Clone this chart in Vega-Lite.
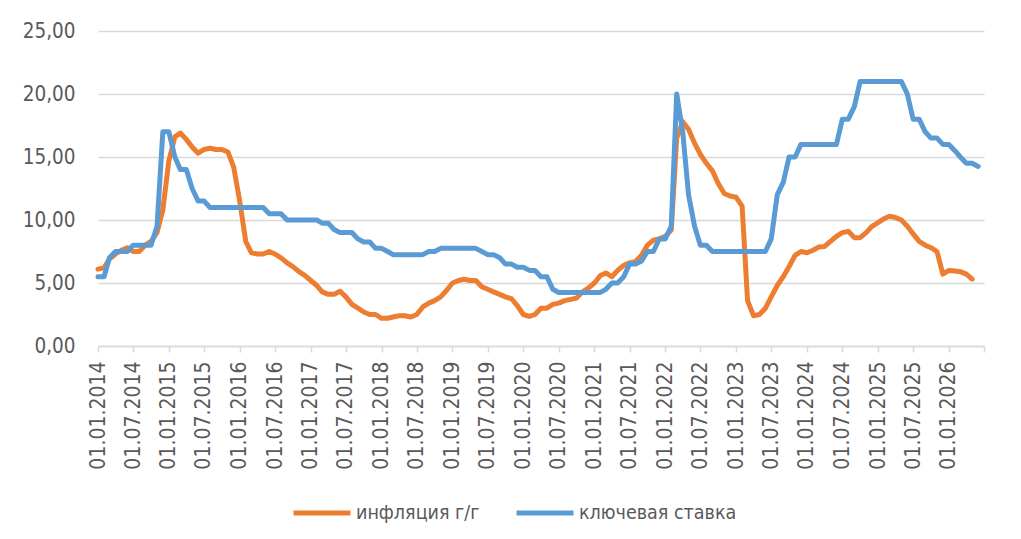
{
"$schema": "https://vega.github.io/schema/vega-lite/v6.json",
"width": 886, "height": 315,
"autosize": {"type": "none"},
"padding": {"left": 98, "top": 31, "right": 37, "bottom": 193},
"background": "white",
"config": {"view": {"stroke": null}, "font": "DejaVu Sans Condensed, Liberation Sans, sans-serif"},
"data": {"values": [
{"d":"2014-01-01","s":"инфляция г/г","v":6.1},{"d":"2014-02-01","s":"инфляция г/г","v":6.2},{"d":"2014-03-01","s":"инфляция г/г","v":6.9},{"d":"2014-04-01","s":"инфляция г/г","v":7.3},{"d":"2014-05-01","s":"инфляция г/г","v":7.6},{"d":"2014-06-01","s":"инфляция г/г","v":7.8},{"d":"2014-07-01","s":"инфляция г/г","v":7.5},{"d":"2014-08-01","s":"инфляция г/г","v":7.5},{"d":"2014-09-01","s":"инфляция г/г","v":8.0},{"d":"2014-10-01","s":"инфляция г/г","v":8.3},{"d":"2014-11-01","s":"инфляция г/г","v":9.0},{"d":"2014-12-01","s":"инфляция г/г","v":10.8},
{"d":"2015-01-01","s":"инфляция г/г","v":14.7},{"d":"2015-02-01","s":"инфляция г/г","v":16.6},{"d":"2015-03-01","s":"инфляция г/г","v":16.9},{"d":"2015-04-01","s":"инфляция г/г","v":16.4},{"d":"2015-05-01","s":"инфляция г/г","v":15.8},{"d":"2015-06-01","s":"инфляция г/г","v":15.3},{"d":"2015-07-01","s":"инфляция г/г","v":15.6},{"d":"2015-08-01","s":"инфляция г/г","v":15.7},{"d":"2015-09-01","s":"инфляция г/г","v":15.6},{"d":"2015-10-01","s":"инфляция г/г","v":15.6},{"d":"2015-11-01","s":"инфляция г/г","v":15.4},{"d":"2015-12-01","s":"инфляция г/г","v":14.2},
{"d":"2016-01-01","s":"инфляция г/г","v":11.5},{"d":"2016-02-01","s":"инфляция г/г","v":8.3},{"d":"2016-03-01","s":"инфляция г/г","v":7.4},{"d":"2016-04-01","s":"инфляция г/г","v":7.3},{"d":"2016-05-01","s":"инфляция г/г","v":7.3},{"d":"2016-06-01","s":"инфляция г/г","v":7.5},{"d":"2016-07-01","s":"инфляция г/г","v":7.3},{"d":"2016-08-01","s":"инфляция г/г","v":7.0},{"d":"2016-09-01","s":"инфляция г/г","v":6.6},{"d":"2016-10-01","s":"инфляция г/г","v":6.3},{"d":"2016-11-01","s":"инфляция г/г","v":5.9},{"d":"2016-12-01","s":"инфляция г/г","v":5.6},
{"d":"2017-01-01","s":"инфляция г/г","v":5.2},{"d":"2017-02-01","s":"инфляция г/г","v":4.8},{"d":"2017-03-01","s":"инфляция г/г","v":4.3},{"d":"2017-04-01","s":"инфляция г/г","v":4.1},{"d":"2017-05-01","s":"инфляция г/г","v":4.1},{"d":"2017-06-01","s":"инфляция г/г","v":4.35},{"d":"2017-07-01","s":"инфляция г/г","v":3.9},{"d":"2017-08-01","s":"инфляция г/г","v":3.3},{"d":"2017-09-01","s":"инфляция г/г","v":3.0},{"d":"2017-10-01","s":"инфляция г/г","v":2.7},{"d":"2017-11-01","s":"инфляция г/г","v":2.5},{"d":"2017-12-01","s":"инфляция г/г","v":2.5},
{"d":"2018-01-01","s":"инфляция г/г","v":2.2},{"d":"2018-02-01","s":"инфляция г/г","v":2.2},{"d":"2018-03-01","s":"инфляция г/г","v":2.3},{"d":"2018-04-01","s":"инфляция г/г","v":2.4},{"d":"2018-05-01","s":"инфляция г/г","v":2.4},{"d":"2018-06-01","s":"инфляция г/г","v":2.3},{"d":"2018-07-01","s":"инфляция г/г","v":2.5},{"d":"2018-08-01","s":"инфляция г/г","v":3.1},{"d":"2018-09-01","s":"инфляция г/г","v":3.4},{"d":"2018-10-01","s":"инфляция г/г","v":3.6},{"d":"2018-11-01","s":"инфляция г/г","v":3.9},{"d":"2018-12-01","s":"инфляция г/г","v":4.4},
{"d":"2019-01-01","s":"инфляция г/г","v":5.0},{"d":"2019-02-01","s":"инфляция г/г","v":5.2},{"d":"2019-03-01","s":"инфляция г/г","v":5.3},{"d":"2019-04-01","s":"инфляция г/г","v":5.2},{"d":"2019-05-01","s":"инфляция г/г","v":5.2},{"d":"2019-06-01","s":"инфляция г/г","v":4.7},{"d":"2019-07-01","s":"инфляция г/г","v":4.5},{"d":"2019-08-01","s":"инфляция г/г","v":4.3},{"d":"2019-09-01","s":"инфляция г/г","v":4.1},{"d":"2019-10-01","s":"инфляция г/г","v":3.9},{"d":"2019-11-01","s":"инфляция г/г","v":3.75},{"d":"2019-12-01","s":"инфляция г/г","v":3.2},
{"d":"2020-01-01","s":"инфляция г/г","v":2.5},{"d":"2020-02-01","s":"инфляция г/г","v":2.35},{"d":"2020-03-01","s":"инфляция г/г","v":2.5},{"d":"2020-04-01","s":"инфляция г/г","v":3.0},{"d":"2020-05-01","s":"инфляция г/г","v":3.0},{"d":"2020-06-01","s":"инфляция г/г","v":3.3},{"d":"2020-07-01","s":"инфляция г/г","v":3.4},{"d":"2020-08-01","s":"инфляция г/г","v":3.6},{"d":"2020-09-01","s":"инфляция г/г","v":3.7},{"d":"2020-10-01","s":"инфляция г/г","v":3.8},{"d":"2020-11-01","s":"инфляция г/г","v":4.3},{"d":"2020-12-01","s":"инфляция г/г","v":4.6},
{"d":"2021-01-01","s":"инфляция г/г","v":5.0},{"d":"2021-02-01","s":"инфляция г/г","v":5.6},{"d":"2021-03-01","s":"инфляция г/г","v":5.8},{"d":"2021-04-01","s":"инфляция г/г","v":5.5},{"d":"2021-05-01","s":"инфляция г/г","v":6.0},{"d":"2021-06-01","s":"инфляция г/г","v":6.4},{"d":"2021-07-01","s":"инфляция г/г","v":6.6},{"d":"2021-08-01","s":"инфляция г/г","v":6.7},{"d":"2021-09-01","s":"инфляция г/г","v":7.2},{"d":"2021-10-01","s":"инфляция г/г","v":8.0},{"d":"2021-11-01","s":"инфляция г/г","v":8.4},{"d":"2021-12-01","s":"инфляция г/г","v":8.5},
{"d":"2022-01-01","s":"инфляция г/г","v":8.7},{"d":"2022-02-01","s":"инфляция г/г","v":9.2},{"d":"2022-03-01","s":"инфляция г/г","v":16.5},{"d":"2022-04-01","s":"инфляция г/г","v":17.8},{"d":"2022-05-01","s":"инфляция г/г","v":17.2},{"d":"2022-06-01","s":"инфляция г/г","v":16.1},{"d":"2022-07-01","s":"инфляция г/г","v":15.2},{"d":"2022-08-01","s":"инфляция г/г","v":14.5},{"d":"2022-09-01","s":"инфляция г/г","v":13.9},{"d":"2022-10-01","s":"инфляция г/г","v":12.9},{"d":"2022-11-01","s":"инфляция г/г","v":12.1},{"d":"2022-12-01","s":"инфляция г/г","v":11.9},
{"d":"2023-01-01","s":"инфляция г/г","v":11.8},{"d":"2023-02-01","s":"инфляция г/г","v":11.1},{"d":"2023-03-01","s":"инфляция г/г","v":3.6},{"d":"2023-04-01","s":"инфляция г/г","v":2.4},{"d":"2023-05-01","s":"инфляция г/г","v":2.5},{"d":"2023-06-01","s":"инфляция г/г","v":3.0},{"d":"2023-07-01","s":"инфляция г/г","v":3.9},{"d":"2023-08-01","s":"инфляция г/г","v":4.8},{"d":"2023-09-01","s":"инфляция г/г","v":5.5},{"d":"2023-10-01","s":"инфляция г/г","v":6.3},{"d":"2023-11-01","s":"инфляция г/г","v":7.2},{"d":"2023-12-01","s":"инфляция г/г","v":7.5},
{"d":"2024-01-01","s":"инфляция г/г","v":7.4},{"d":"2024-02-01","s":"инфляция г/г","v":7.6},{"d":"2024-03-01","s":"инфляция г/г","v":7.85},{"d":"2024-04-01","s":"инфляция г/г","v":7.9},{"d":"2024-05-01","s":"инфляция г/г","v":8.3},{"d":"2024-06-01","s":"инфляция г/г","v":8.7},{"d":"2024-07-01","s":"инфляция г/г","v":9.0},{"d":"2024-08-01","s":"инфляция г/г","v":9.1},{"d":"2024-09-01","s":"инфляция г/г","v":8.6},{"d":"2024-10-01","s":"инфляция г/г","v":8.6},{"d":"2024-11-01","s":"инфляция г/г","v":9.0},{"d":"2024-12-01","s":"инфляция г/г","v":9.5},
{"d":"2025-01-01","s":"инфляция г/г","v":9.8},{"d":"2025-02-01","s":"инфляция г/г","v":10.1},{"d":"2025-03-01","s":"инфляция г/г","v":10.3},{"d":"2025-04-01","s":"инфляция г/г","v":10.2},{"d":"2025-05-01","s":"инфляция г/г","v":10.0},{"d":"2025-06-01","s":"инфляция г/г","v":9.5},{"d":"2025-07-01","s":"инфляция г/г","v":8.9},{"d":"2025-08-01","s":"инфляция г/г","v":8.3},{"d":"2025-09-01","s":"инфляция г/г","v":8.0},{"d":"2025-10-01","s":"инфляция г/г","v":7.8},{"d":"2025-11-01","s":"инфляция г/г","v":7.5},{"d":"2025-12-01","s":"инфляция г/г","v":5.7},
{"d":"2026-01-01","s":"инфляция г/г","v":6.0},{"d":"2026-02-01","s":"инфляция г/г","v":5.95},{"d":"2026-03-01","s":"инфляция г/г","v":5.9},{"d":"2026-04-01","s":"инфляция г/г","v":5.7},{"d":"2026-05-01","s":"инфляция г/г","v":5.3},
{"d":"2014-01-01","s":"ключевая ставка","v":5.5},{"d":"2014-02-01","s":"ключевая ставка","v":5.5},{"d":"2014-03-01","s":"ключевая ставка","v":7.0},{"d":"2014-04-01","s":"ключевая ставка","v":7.5},{"d":"2014-05-01","s":"ключевая ставка","v":7.5},{"d":"2014-06-01","s":"ключевая ставка","v":7.5},{"d":"2014-07-01","s":"ключевая ставка","v":8.0},{"d":"2014-08-01","s":"ключевая ставка","v":8.0},{"d":"2014-09-01","s":"ключевая ставка","v":8.0},{"d":"2014-10-01","s":"ключевая ставка","v":8.0},{"d":"2014-11-01","s":"ключевая ставка","v":9.5},{"d":"2014-12-01","s":"ключевая ставка","v":17.0},
{"d":"2015-01-01","s":"ключевая ставка","v":17.0},{"d":"2015-02-01","s":"ключевая ставка","v":15.0},{"d":"2015-03-01","s":"ключевая ставка","v":14.0},{"d":"2015-04-01","s":"ключевая ставка","v":14.0},{"d":"2015-05-01","s":"ключевая ставка","v":12.5},{"d":"2015-06-01","s":"ключевая ставка","v":11.5},{"d":"2015-07-01","s":"ключевая ставка","v":11.5},{"d":"2015-08-01","s":"ключевая ставка","v":11.0},{"d":"2015-09-01","s":"ключевая ставка","v":11.0},{"d":"2015-10-01","s":"ключевая ставка","v":11.0},{"d":"2015-11-01","s":"ключевая ставка","v":11.0},{"d":"2015-12-01","s":"ключевая ставка","v":11.0},
{"d":"2016-01-01","s":"ключевая ставка","v":11.0},{"d":"2016-02-01","s":"ключевая ставка","v":11.0},{"d":"2016-03-01","s":"ключевая ставка","v":11.0},{"d":"2016-04-01","s":"ключевая ставка","v":11.0},{"d":"2016-05-01","s":"ключевая ставка","v":11.0},{"d":"2016-06-01","s":"ключевая ставка","v":10.5},{"d":"2016-07-01","s":"ключевая ставка","v":10.5},{"d":"2016-08-01","s":"ключевая ставка","v":10.5},{"d":"2016-09-01","s":"ключевая ставка","v":10.0},{"d":"2016-10-01","s":"ключевая ставка","v":10.0},{"d":"2016-11-01","s":"ключевая ставка","v":10.0},{"d":"2016-12-01","s":"ключевая ставка","v":10.0},
{"d":"2017-01-01","s":"ключевая ставка","v":10.0},{"d":"2017-02-01","s":"ключевая ставка","v":10.0},{"d":"2017-03-01","s":"ключевая ставка","v":9.75},{"d":"2017-04-01","s":"ключевая ставка","v":9.75},{"d":"2017-05-01","s":"ключевая ставка","v":9.25},{"d":"2017-06-01","s":"ключевая ставка","v":9.0},{"d":"2017-07-01","s":"ключевая ставка","v":9.0},{"d":"2017-08-01","s":"ключевая ставка","v":9.0},{"d":"2017-09-01","s":"ключевая ставка","v":8.5},{"d":"2017-10-01","s":"ключевая ставка","v":8.25},{"d":"2017-11-01","s":"ключевая ставка","v":8.25},{"d":"2017-12-01","s":"ключевая ставка","v":7.75},
{"d":"2018-01-01","s":"ключевая ставка","v":7.75},{"d":"2018-02-01","s":"ключевая ставка","v":7.5},{"d":"2018-03-01","s":"ключевая ставка","v":7.25},{"d":"2018-04-01","s":"ключевая ставка","v":7.25},{"d":"2018-05-01","s":"ключевая ставка","v":7.25},{"d":"2018-06-01","s":"ключевая ставка","v":7.25},{"d":"2018-07-01","s":"ключевая ставка","v":7.25},{"d":"2018-08-01","s":"ключевая ставка","v":7.25},{"d":"2018-09-01","s":"ключевая ставка","v":7.5},{"d":"2018-10-01","s":"ключевая ставка","v":7.5},{"d":"2018-11-01","s":"ключевая ставка","v":7.75},{"d":"2018-12-01","s":"ключевая ставка","v":7.75},
{"d":"2019-01-01","s":"ключевая ставка","v":7.75},{"d":"2019-02-01","s":"ключевая ставка","v":7.75},{"d":"2019-03-01","s":"ключевая ставка","v":7.75},{"d":"2019-04-01","s":"ключевая ставка","v":7.75},{"d":"2019-05-01","s":"ключевая ставка","v":7.75},{"d":"2019-06-01","s":"ключевая ставка","v":7.5},{"d":"2019-07-01","s":"ключевая ставка","v":7.25},{"d":"2019-08-01","s":"ключевая ставка","v":7.25},{"d":"2019-09-01","s":"ключевая ставка","v":7.0},{"d":"2019-10-01","s":"ключевая ставка","v":6.5},{"d":"2019-11-01","s":"ключевая ставка","v":6.5},{"d":"2019-12-01","s":"ключевая ставка","v":6.25},
{"d":"2020-01-01","s":"ключевая ставка","v":6.25},{"d":"2020-02-01","s":"ключевая ставка","v":6.0},{"d":"2020-03-01","s":"ключевая ставка","v":6.0},{"d":"2020-04-01","s":"ключевая ставка","v":5.5},{"d":"2020-05-01","s":"ключевая ставка","v":5.5},{"d":"2020-06-01","s":"ключевая ставка","v":4.5},{"d":"2020-07-01","s":"ключевая ставка","v":4.25},{"d":"2020-08-01","s":"ключевая ставка","v":4.25},{"d":"2020-09-01","s":"ключевая ставка","v":4.25},{"d":"2020-10-01","s":"ключевая ставка","v":4.25},{"d":"2020-11-01","s":"ключевая ставка","v":4.25},{"d":"2020-12-01","s":"ключевая ставка","v":4.25},
{"d":"2021-01-01","s":"ключевая ставка","v":4.25},{"d":"2021-02-01","s":"ключевая ставка","v":4.25},{"d":"2021-03-01","s":"ключевая ставка","v":4.5},{"d":"2021-04-01","s":"ключевая ставка","v":5.0},{"d":"2021-05-01","s":"ключевая ставка","v":5.0},{"d":"2021-06-01","s":"ключевая ставка","v":5.5},{"d":"2021-07-01","s":"ключевая ставка","v":6.5},{"d":"2021-08-01","s":"ключевая ставка","v":6.5},{"d":"2021-09-01","s":"ключевая ставка","v":6.75},{"d":"2021-10-01","s":"ключевая ставка","v":7.5},{"d":"2021-11-01","s":"ключевая ставка","v":7.5},{"d":"2021-12-01","s":"ключевая ставка","v":8.5},
{"d":"2022-01-01","s":"ключевая ставка","v":8.5},{"d":"2022-02-01","s":"ключевая ставка","v":9.5},{"d":"2022-03-01","s":"ключевая ставка","v":20.0},{"d":"2022-04-01","s":"ключевая ставка","v":17.0},{"d":"2022-05-01","s":"ключевая ставка","v":12.0},{"d":"2022-06-01","s":"ключевая ставка","v":9.5},{"d":"2022-07-01","s":"ключевая ставка","v":8.0},{"d":"2022-08-01","s":"ключевая ставка","v":8.0},{"d":"2022-09-01","s":"ключевая ставка","v":7.5},{"d":"2022-10-01","s":"ключевая ставка","v":7.5},{"d":"2022-11-01","s":"ключевая ставка","v":7.5},{"d":"2022-12-01","s":"ключевая ставка","v":7.5},
{"d":"2023-01-01","s":"ключевая ставка","v":7.5},{"d":"2023-02-01","s":"ключевая ставка","v":7.5},{"d":"2023-03-01","s":"ключевая ставка","v":7.5},{"d":"2023-04-01","s":"ключевая ставка","v":7.5},{"d":"2023-05-01","s":"ключевая ставка","v":7.5},{"d":"2023-06-01","s":"ключевая ставка","v":7.5},{"d":"2023-07-01","s":"ключевая ставка","v":8.5},{"d":"2023-08-01","s":"ключевая ставка","v":12.0},{"d":"2023-09-01","s":"ключевая ставка","v":13.0},{"d":"2023-10-01","s":"ключевая ставка","v":15.0},{"d":"2023-11-01","s":"ключевая ставка","v":15.0},{"d":"2023-12-01","s":"ключевая ставка","v":16.0},
{"d":"2024-01-01","s":"ключевая ставка","v":16.0},{"d":"2024-02-01","s":"ключевая ставка","v":16.0},{"d":"2024-03-01","s":"ключевая ставка","v":16.0},{"d":"2024-04-01","s":"ключевая ставка","v":16.0},{"d":"2024-05-01","s":"ключевая ставка","v":16.0},{"d":"2024-06-01","s":"ключевая ставка","v":16.0},{"d":"2024-07-01","s":"ключевая ставка","v":18.0},{"d":"2024-08-01","s":"ключевая ставка","v":18.0},{"d":"2024-09-01","s":"ключевая ставка","v":19.0},{"d":"2024-10-01","s":"ключевая ставка","v":21.0},{"d":"2024-11-01","s":"ключевая ставка","v":21.0},{"d":"2024-12-01","s":"ключевая ставка","v":21.0},
{"d":"2025-01-01","s":"ключевая ставка","v":21.0},{"d":"2025-02-01","s":"ключевая ставка","v":21.0},{"d":"2025-03-01","s":"ключевая ставка","v":21.0},{"d":"2025-04-01","s":"ключевая ставка","v":21.0},{"d":"2025-05-01","s":"ключевая ставка","v":21.0},{"d":"2025-06-01","s":"ключевая ставка","v":20.0},{"d":"2025-07-01","s":"ключевая ставка","v":18.0},{"d":"2025-08-01","s":"ключевая ставка","v":18.0},{"d":"2025-09-01","s":"ключевая ставка","v":17.0},{"d":"2025-10-01","s":"ключевая ставка","v":16.5},{"d":"2025-11-01","s":"ключевая ставка","v":16.5},{"d":"2025-12-01","s":"ключевая ставка","v":16.0},
{"d":"2026-01-01","s":"ключевая ставка","v":16.0},{"d":"2026-02-01","s":"ключевая ставка","v":15.5},{"d":"2026-03-01","s":"ключевая ставка","v":15.0},{"d":"2026-04-01","s":"ключевая ставка","v":14.5},{"d":"2026-05-01","s":"ключевая ставка","v":14.5},{"d":"2026-06-01","s":"ключевая ставка","v":14.25}
]},
"mark": {"type": "line", "strokeWidth": 5, "strokeCap": "round", "strokeJoin": "round"},
"encoding": {
"x": {"field": "d", "type": "temporal",
"scale": {"domain": [{"year": 2014, "month": 1, "date": 1}, {"year": 2026, "month": 7, "date": 1}]},
"axis": {"title": null, "format": "%d.%m.%Y", "tickCount": {"interval": "month", "step": 6},
"labelExpr": "datum.value >= datetime(2026,5,15) ? '' : datum.label",
"labelAngle": 270, "labelFontSize": 21, "labelColor": "#595959", "labelFont": "DejaVu Sans Condensed, Liberation Sans, sans-serif",
"domainColor": "#D9D9D9", "domainWidth": 1.5, "tickColor": "#D9D9D9", "tickWidth": 1.5, "tickSize": 6,
"labelPadding": 9, "grid": false, "labelOverlap": false, "labelFlush": false, "labelBound": false}},
"y": {"field": "v", "type": "quantitative",
"scale": {"domain": [0, 25], "nice": false, "zero": true},
"axis": {"title": null, "values": [0, 5, 10, 15, 20, 25],
"labelExpr": "replace(format(datum.value,'.2f'),'.',',')",
"domain": false, "ticks": false, "labelPadding": 23, "gridColor": "#D9D9D9", "gridWidth": 1.5,
"labelFontSize": 20.5, "labelColor": "#595959", "labelFont": "DejaVu Sans Condensed, Liberation Sans, sans-serif"}},
"color": {"field": "s", "type": "nominal",
"scale": {"domain": ["инфляция г/г", "ключевая ставка"], "range": ["#ED7D31", "#5B9BD5"]},
"legend": {"title": null, "orient": "none", "direction": "horizontal", "legendX": 193, "legendY": 451,
"symbolType": "stroke", "symbolSize": 3249, "symbolStrokeWidth": 5,
"labelFontSize": 19.5, "labelColor": "#595959", "labelFont": "DejaVu Sans Condensed, Liberation Sans, sans-serif",
"labelLimit": 400, "columnPadding": 26, "labelOffset": 3}}
}
}
